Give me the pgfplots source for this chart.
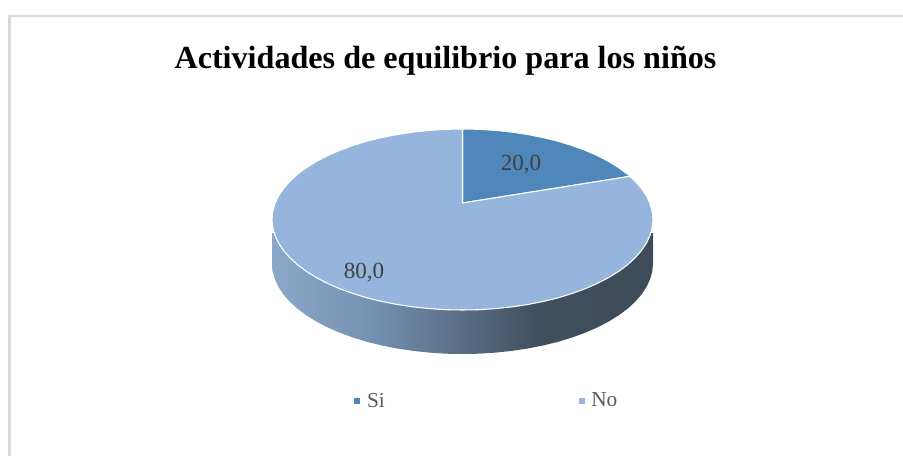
\documentclass[border=0pt]{standalone}
\usepackage{pgfplots}
\pgfplotsset{compat=1.18}
\usepackage{fontspec}
\setmainfont{Liberation Serif}
\definecolor{siblue}{HTML}{4F87BA}
\definecolor{noblue}{HTML}{95B5DC}
\definecolor{framegray}{HTML}{D9D9D9}
\definecolor{labelgray}{HTML}{404040}
\definecolor{legendgray}{HTML}{595959}
\pgfdeclarehorizontalshading{pieside}{100bp}{
	rgb(0bp)=(0.545,0.659,0.784);
	rgb(25bp)=(0.545,0.659,0.784);
	rgb(37.5bp)=(0.459,0.573,0.702);
	rgb(50bp)=(0.353,0.427,0.522);
	rgb(60bp)=(0.251,0.310,0.369);
	rgb(75bp)=(0.243,0.298,0.349);
	rgb(100bp)=(0.243,0.298,0.349)}
\begin{document}
\begin{tikzpicture}
\useasboundingbox (0,0) rectangle (677.25pt,341.25pt);
\begin{axis}[scale only axis, width=677.25pt, height=341.25pt,
	xmin=0, xmax=903, ymin=0, ymax=455, y dir=reverse,
	axis lines=none, enlargelimits=false,
	legend style={draw=none, fill=none, at={(axis cs:350,401)}, anchor=west,
		font=\fontsize{16}{18}\selectfont\color{legendgray},
		legend columns=2, /tikz/every even column/.append style={column sep=143.25pt}},
	legend image code/.code={\fill[#1,draw=none] (0pt,-2.3pt) rectangle (4.6pt,2.3pt);}]
% frame
\addplot[framegray, line width=2.2pt, forget plot] coordinates {(9.5,460) (9.5,16) (910,16)};
% side wall of the disc
\addplot[draw=none, shading=pieside, forget plot] coordinates {
	(272.0,233) (272.0,263.5) (272.7,271.4) (274.9,279.2) (278.5,286.9) (283.5,294.5)
	(289.8,301.7) (297.5,308.8) (306.4,315.4) (316.6,321.7) (327.8,327.5) (340.0,332.8)
	(353.2,337.6) (367.2,341.9) (382.0,345.5) (397.3,348.5) (413.2,350.9) (429.4,352.6)
	(445.9,353.7) (462.5,354.0) (479.1,353.7) (495.6,352.6) (511.8,350.9) (527.7,348.5)
	(543.0,345.5) (557.8,341.9) (571.8,337.6) (585.0,332.8) (597.2,327.5) (608.4,321.7)
	(618.6,315.4) (627.5,308.8) (635.2,301.7) (641.5,294.5) (646.5,286.9) (650.1,279.2)
	(652.3,271.4) (653.0,263.5) (653.0,233)} -- cycle;
% Si
\addplot[fill=siblue, draw=white, line width=0.8pt, line join=round] coordinates {
	(462.5,203) (462.5,129.0) (479.1,129.3) (495.6,130.4) (511.8,132.1) (527.7,134.5)
	(543.0,137.5) (557.8,141.1) (571.8,145.4) (585.0,150.2) (597.2,155.5) (608.4,161.3)
	(618.6,167.6) (627.5,174.2) (630.0,176.3)} -- cycle;
\addlegendentry{\hspace*{3pt}Si}
% No
\addplot[fill=noblue, draw=white, line width=0.8pt, line join=round] coordinates {
	(462.5,203) (630.0,176.3) (635.2,181.3) (641.5,188.5) (646.5,196.1) (650.1,203.8)
	(652.3,211.6) (653.0,219.5) (652.3,227.4) (650.1,235.2) (646.5,242.9) (641.5,250.5)
	(635.2,257.7) (627.5,264.8) (618.6,271.4) (608.4,277.7) (597.2,283.5) (585.0,288.8)
	(571.8,293.6) (557.8,297.9) (543.0,301.5) (527.7,304.5) (511.8,306.9) (495.6,308.6)
	(479.1,309.7) (462.5,310.0) (445.9,309.7) (429.4,308.6) (413.2,306.9) (397.3,304.5)
	(382.0,301.5) (367.2,297.9) (353.2,293.6) (340.0,288.8) (327.8,283.5) (316.6,277.7)
	(306.4,271.4) (297.5,264.8) (289.8,257.7) (283.5,250.5) (278.5,242.9) (274.9,235.2)
	(272.7,227.4) (272.0,219.5) (272.7,211.6) (274.9,203.8) (278.5,196.1) (283.5,188.5)
	(289.8,181.3) (297.5,174.2) (306.4,167.6) (316.6,161.3) (327.8,155.5) (340.0,150.2)
	(353.2,145.4) (367.2,141.1) (382.0,137.5) (397.3,134.5) (413.2,132.1) (429.4,130.4)
	(445.9,129.3) (462.5,129.0)} -- cycle;
\addlegendentry{\hspace*{3pt}No}
\node[font=\fontsize{17.3}{18}\selectfont, text=labelgray] at (axis cs:521,165) {20,0};
\node[font=\fontsize{17.3}{18}\selectfont, text=labelgray] at (axis cs:364,272.5) {80,0};
\node[font=\fontsize{24.1}{26}\selectfont\bfseries, text=black] at (axis cs:445.5,61) {Actividades de equilibrio para los niños};
\end{axis}
\end{tikzpicture}
\end{document}
